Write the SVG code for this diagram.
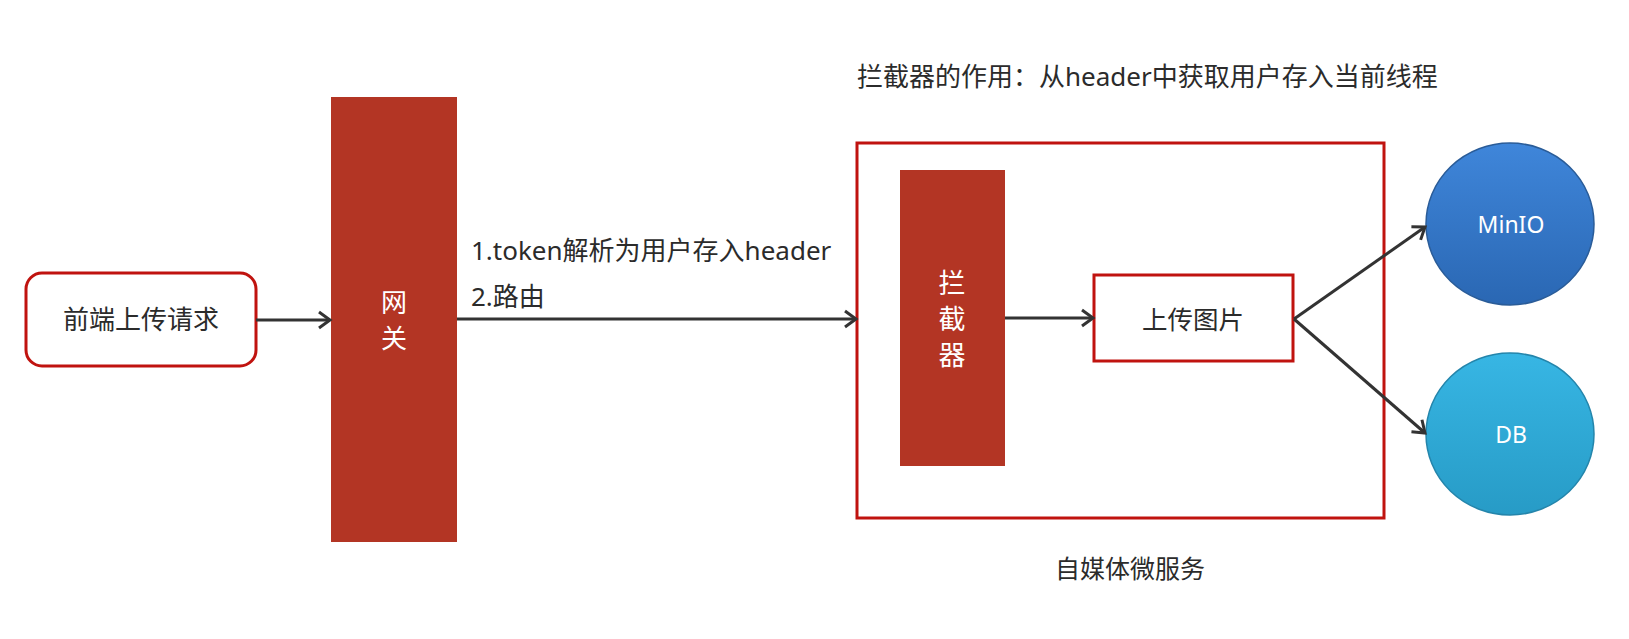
<svg xmlns="http://www.w3.org/2000/svg" width="1629" height="639" viewBox="0 0 1629 639">
<style>
.t{font-family:"Noto Sans","Noto Sans CJK SC",sans-serif;fill:#2b2b2b}
.w{font-family:"Noto Sans","Noto Sans CJK SC",sans-serif;fill:#ffffff}
.bar{fill:#b33524}
.box{fill:#ffffff;stroke:#c0130f;stroke-width:3}
.ln{stroke:#333333;stroke-width:3;fill:none}
</style>
<defs>
<marker id="arr" markerUnits="userSpaceOnUse" markerWidth="20" markerHeight="20" viewBox="0 0 20 20" refX="14" refY="10" orient="auto">
<path d="M3,2 L14,10 L3,18" fill="none" stroke="#333333" stroke-width="3"/>
</marker>
<linearGradient id="gBlue" x1="0" y1="0" x2="0" y2="1">
<stop offset="0" stop-color="#3f86da"/>
<stop offset="1" stop-color="#2a67b3"/>
</linearGradient>
<linearGradient id="gCyan" x1="0" y1="0" x2="0" y2="1">
<stop offset="0" stop-color="#37b6e4"/>
<stop offset="1" stop-color="#279bc6"/>
</linearGradient>
</defs>
<rect width="1629" height="639" fill="#ffffff"/>

<text class="t" x="857" y="86" font-size="26">拦截器的作用：从header中获取用户存入当前线程</text>

<g id="frontend">
<rect class="box" x="26" y="273" width="230" height="93" rx="16"/>
<text class="t" x="141" y="329" font-size="26" text-anchor="middle">前端上传请求</text>
</g>

<g id="gateway">
<rect class="bar" x="331" y="97" width="126" height="445"/>
<text class="w" x="394" y="312" font-size="26" text-anchor="middle">网</text>
<text class="w" x="394" y="348" font-size="26" text-anchor="middle">关</text>
</g>

<g id="service">
<rect class="box" x="857" y="143" width="527" height="375"/>
<text class="t" x="1130" y="578" font-size="25" text-anchor="middle">自媒体微服务</text>
</g>

<g id="interceptor">
<rect class="bar" x="900" y="170" width="105" height="296"/>
<text class="w" x="952" y="293" font-size="27" text-anchor="middle">拦</text>
<text class="w" x="952" y="329" font-size="27" text-anchor="middle">截</text>
<text class="w" x="952" y="365" font-size="27" text-anchor="middle">器</text>
</g>

<g id="upload">
<rect class="box" x="1094" y="275" width="199" height="86"/>
<text class="t" x="1193" y="329" font-size="25.5" text-anchor="middle">上传图片</text>
</g>

<g id="minio">
<ellipse cx="1510" cy="224" rx="84" ry="81" fill="url(#gBlue)" stroke="#2a5c98" stroke-width="1.5"/>
<text class="w" x="1511" y="233" font-size="23" text-anchor="middle">MinIO</text>
</g>

<g id="db">
<ellipse cx="1510" cy="434" rx="84" ry="81" fill="url(#gCyan)" stroke="#2485ab" stroke-width="1.5"/>
<text class="w" x="1511" y="443" font-size="23" text-anchor="middle">DB</text>
</g>

<g id="connectors">
<line class="ln" x1="256" y1="320" x2="330" y2="320" marker-end="url(#arr)"/>
<line class="ln" x1="457" y1="319" x2="856" y2="319" marker-end="url(#arr)"/>
<line class="ln" x1="1005" y1="318" x2="1093" y2="318" marker-end="url(#arr)"/>
<line class="ln" x1="1294" y1="319" x2="1425" y2="227" marker-end="url(#arr)"/>
<line class="ln" x1="1294" y1="319" x2="1425" y2="433" marker-end="url(#arr)"/>
<text class="t" x="471" y="260" font-size="26">1.token解析为用户存入header</text>
<text class="t" x="471" y="306" font-size="26">2.路由</text>
</g>
</svg>
